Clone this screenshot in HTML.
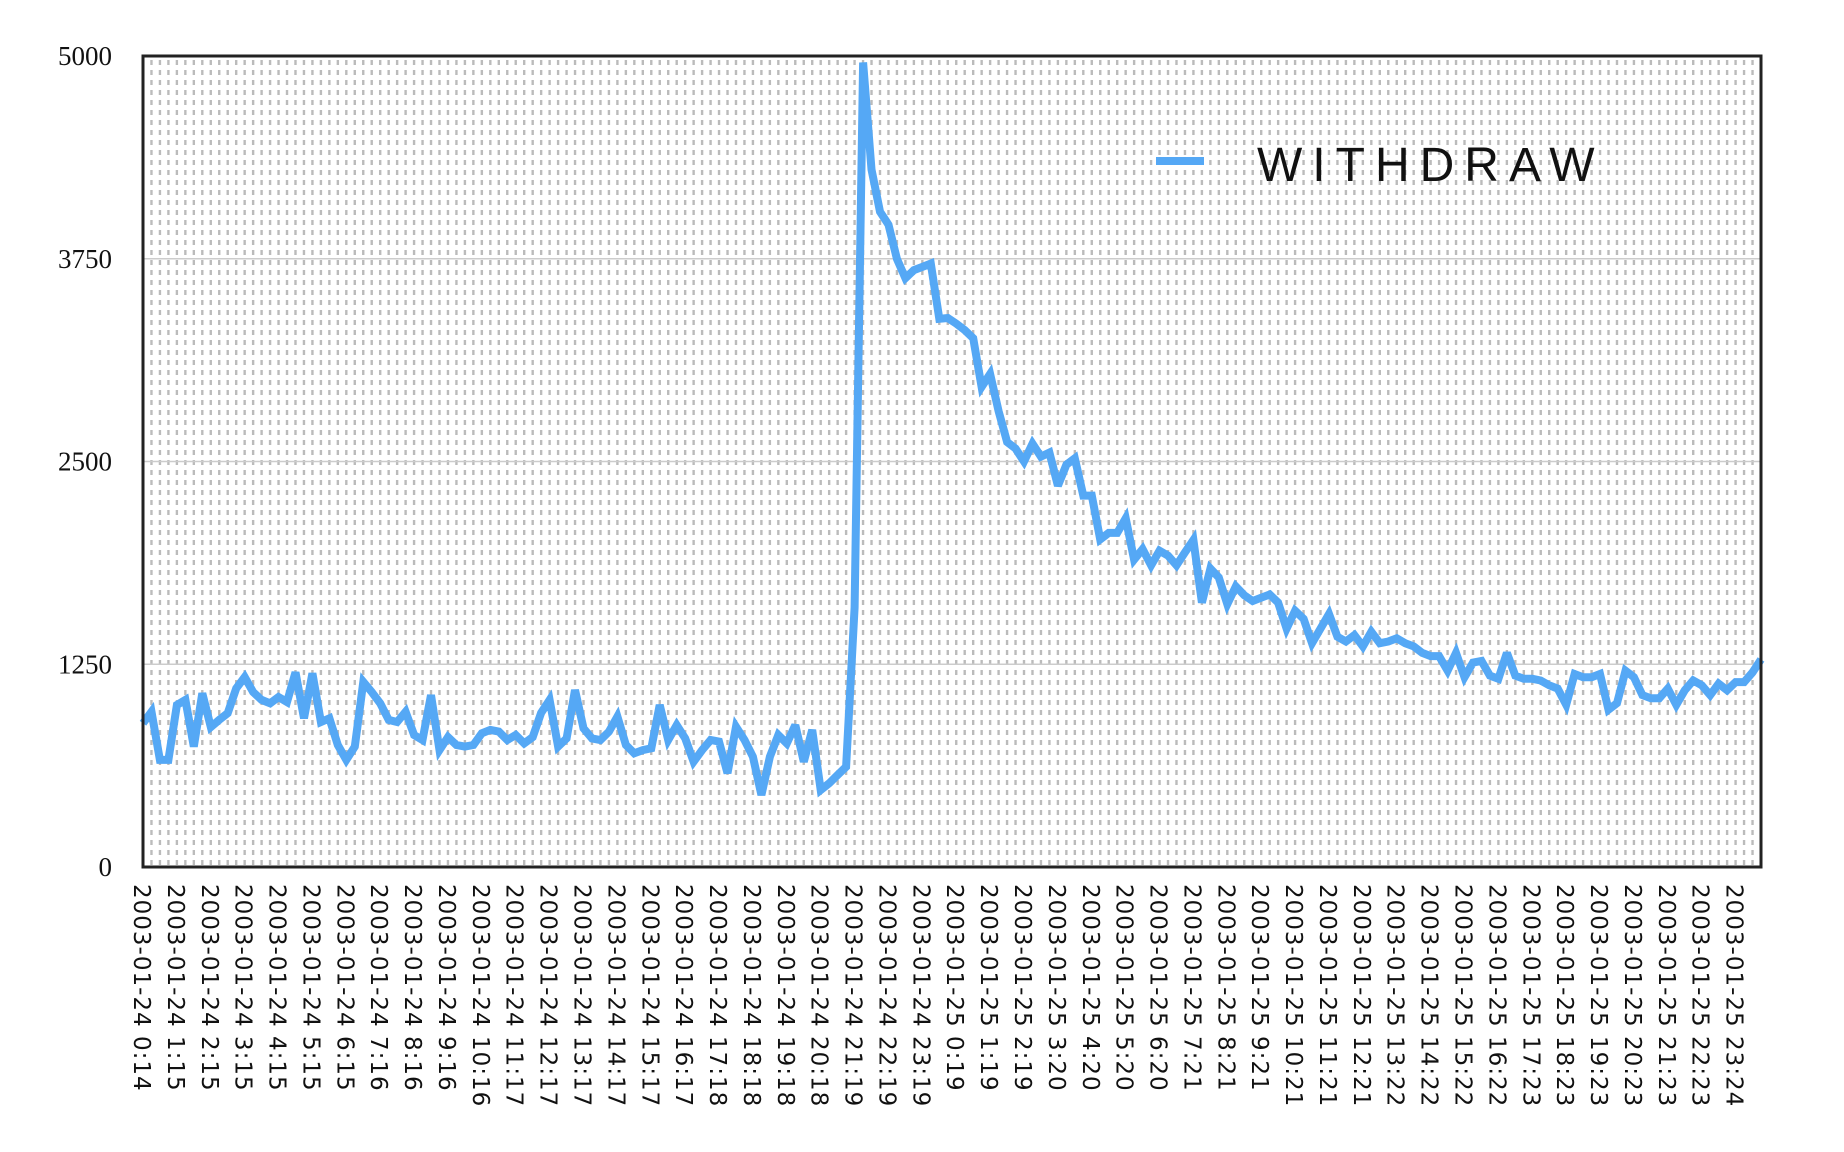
<!DOCTYPE html>
<html><head><meta charset="utf-8"><style>
html,body{margin:0;padding:0;background:#fff;}
svg{display:block;}
</style></head><body>
<svg id="chart" width="1844" height="1152" xmlns="http://www.w3.org/2000/svg">
<g id="grid"></g>
<g id="yticks"></g>
<g id="xticks"></g>
<g id="series"></g>
<rect x="143" y="56" width="1618" height="811" fill="none" stroke="#222" stroke-width="3"/>
<g>
<line x1="1156" y1="161" x2="1204" y2="161" stroke="#55a8f5" stroke-width="8"/>
<text x="1257" y="181" font-family="Liberation Sans, sans-serif" font-size="48" letter-spacing="10" fill="#111">WITHDRAW</text>
</g>
</svg>
<script>
const yTicks = [0, 1250, 2500, 3750, 5000];
const labelDays = ["2003-01-24","2003-01-25"];
const labelTimes24 = ["0:14","1:15","2:15","3:15","4:15","5:15","6:15","7:16","8:16","9:16","10:16","11:17","12:17","13:17","14:17","15:17","16:17","17:18","18:18","19:18","20:18","21:19","22:19","23:19"];
const labelTimes25 = ["0:19","1:19","2:19","3:20","4:20","5:20","6:20","7:21","8:21","9:21","10:21","11:21","12:21","13:22","14:22","15:22","16:22","17:23","18:23","19:23","20:23","21:23","22:23","23:24"];
const withdrawA = [886,957,660,660,999,1030,742,1071,863,907,948,1101,1171,1079,1030,1009,1048,1017,1200,917,1194,894,917,752,660,742,1141,1079,1009,907,894,957,814,783,1060,721,801,752,742,752,824,845,835,783,814,762,801,950,1030,742];
const withdrawB = [793,1091,855,793,783,834,927,752,701,721,732,999,783,875,793,649,721,783,773,578,865,783,680,444,680,814,762,875,649,845,475,516,567,618,1600];
const withdrawC = [4960,4300,4040,3960,3750,3630,3680,3700,3720,3380,3385,3350,3310,3260,2960,3040,2810,2620,2580,2500,2610,2530,2555,2350,2480,2520,2290,2290,2020,2060,2060,2150,1895,1960,1860,1950,1920,1860,1940,2016,1630,1840,1785,1620,1730,1675];
const withdrawD = [1640,1660,1680,1630,1470,1580,1530,1380,1470,1560,1420,1390,1430,1360,1450,1380,1390,1410,1380,1360,1320,1300,1300,1210,1320,1170,1260,1270,1180,1160,1320,1180,1160,1160,1150,1120,1100,1000,1190,1170,1170,1190,970,1010,1210,1170,1060,1040,1040,1100,1000,1090,1150,1120,1060,1130,1090,1140,1140,1200,1280];
const values = withdrawA.concat(withdrawB, withdrawC, withdrawD);
const NS = "http://www.w3.org/2000/svg";
const L = 143, R = 1761, T = 56, B = 867, YMAX = 5000;
const n = values.length;
function xPos(i){ return L + i * (R - L) / (n - 1); }
function yPos(v){ return B - v / YMAX * (B - T); }
function mk(tag, attrs, parent){ const e = document.createElementNS(NS, tag); for (const k in attrs) e.setAttribute(k, attrs[k]); parent.appendChild(e); return e; }
const grid = document.getElementById('grid');
for (let i = 0; i < n; i++) {
  const l = mk('line', {x1: xPos(i), x2: xPos(i), y1: T + 4, y2: B, stroke: '#bbb', 'stroke-width': 2.4, 'stroke-dasharray': '5,5'}, grid);
  
  
}
const yt = document.getElementById('yticks');
yTicks.forEach(v => {
  if (v > 0 && v < YMAX) {
    const g = mk('line', {x1: L, x2: R, y1: yPos(v), y2: yPos(v), stroke: '#ccc', 'stroke-width': 1.5}, grid);
    
    
  }
  const t = mk('text', {x: 112, y: yPos(v) + 9, 'text-anchor': 'end', 'font-family': 'Liberation Serif, serif', 'font-size': 27, fill: '#111'}, yt);
  t.textContent = String(v);
  
  
});
const xt = document.getElementById('xticks');
const labels = labelTimes24.map(t => labelDays[0] + ' ' + t).concat(labelTimes25.map(t => labelDays[1] + ' ' + t));
labels.forEach((s, k) => {
  const x = xPos(k * 4);
  const t = mk('text', {x: 0, y: 0, transform: 'translate(' + (x - 9) + ',884) rotate(90)', 'font-family': 'DejaVu Sans, sans-serif', 'font-size': 23, 'letter-spacing': 1, fill: '#111'}, xt);
  t.textContent = s;
  
  
});
const series = document.getElementById('series');
const pts = values.map((v, i) => xPos(i).toFixed(1) + ',' + yPos(v).toFixed(1)).join(' ');
const line = mk('polyline', {points: pts, fill: 'none', stroke: '#55a8f5', 'stroke-width': 8, 'stroke-linejoin': 'miter', 'stroke-miterlimit': 3}, series);


</script>
</body></html>
